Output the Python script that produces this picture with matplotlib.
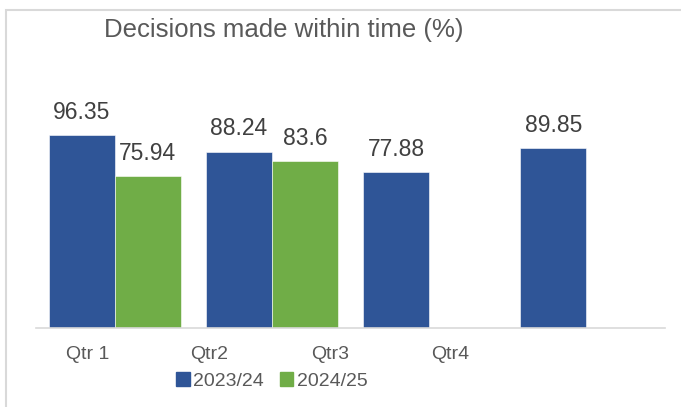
import matplotlib.pyplot as plt
from matplotlib.patches import Patch, Rectangle

plt.rcParams["font.family"] = ["Liberation Sans", "DejaVu Sans"]

quarters = ["Qtr 1", "Qtr2", "Qtr3", "Qtr4"]
series_names = ["2023/24", "2024/25"]
values_2324 = [96.35, 88.24, 77.88, 89.85]
values_2425 = [75.94, 83.6]

BLUE = "#2F5597"
GREEN = "#70AD47"
TEXT = "#595959"
LABEL = "#404040"

W, H = 681, 407
fig = plt.figure(figsize=(W / 100, H / 100), dpi=100)

# outer chart border (top and left edges visible)
fig.patches.append(Rectangle((6 / W, -0.1), 1.2, 1 - 10 / H + 0.1,
                             transform=fig.transFigure, fill=False,
                             edgecolor="#D9D9D9", linewidth=1.5))

AX_L, AX_W = 36, 629
ax = fig.add_axes([AX_L / W, (H - 328) / H, AX_W / W, 200 / H])
ax.set_xlim(-0.5, 3.5)
ax.set_ylim(0, 100)

bw = 0.42
x1 = [i - bw / 2 for i in range(len(values_2324))]
x2 = [i + bw / 2 for i in range(len(values_2425))]
b1 = ax.bar(x1, values_2324, width=bw, color=BLUE, edgecolor="white", linewidth=0.4)
b2 = ax.bar(x2, values_2425, width=bw, color=GREEN, edgecolor="white", linewidth=0.4)
for bars in (b1, b2):
    ax.bar_label(bars, labels=[f"{v:g}" for v in bars.datavalues],
                 padding=8, fontsize=16.5, color=LABEL)

for s in ("top", "right", "left"):
    ax.spines[s].set_visible(False)
ax.spines["bottom"].set_color("#D9D9D9")
ax.spines["bottom"].set_linewidth(1.2)
ax.set_yticks([])

# category labels sit left of their bar groups
tick_px = [88, 209, 330, 450]
ax.set_xticks([(p - AX_L) / (AX_W / 4) - 0.5 for p in tick_px])
ax.set_xticklabels(quarters, fontsize=14, color=TEXT)
ax.tick_params(axis="x", length=0, pad=13)

fig.text(284 / W, 1 - 30 / H, "Decisions made within time (%)",
         ha="center", va="center", fontsize=18.5, color=TEXT)

handles = [Patch(color=BLUE, label=series_names[0]),
           Patch(color=GREEN, label=series_names[1])]
fig.legend(handles=handles, loc="center", bbox_to_anchor=(272 / W, 1 - 381 / H),
           ncol=2, frameon=False, fontsize=14, labelcolor=TEXT,
           handlelength=0.7, handleheight=0.7, handletextpad=0.2,
           columnspacing=0.8, borderpad=0)

fig.savefig("out.png", dpi=100, facecolor="white")
